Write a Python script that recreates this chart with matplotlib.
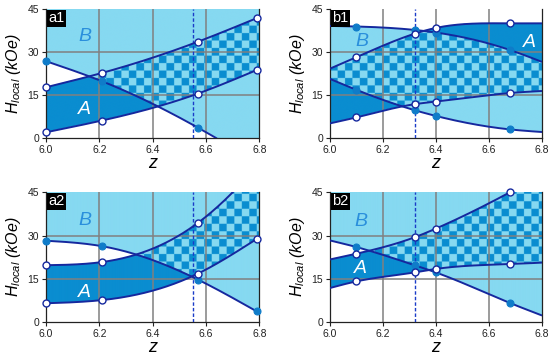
import numpy as np
import matplotlib
matplotlib.use("Agg")
import matplotlib.pyplot as plt

# ---------------- data ----------------
Z_MARK_A = [6.0, 6.21, 6.57, 6.79]
Z_MARK_B = [6.1, 6.32, 6.4, 6.68]

# panel a1
A1_LOWER_Z = [6.0, 6.21, 6.57, 6.79]
A1_LOWER = [2.1, 6.2, 15.6, 23.8]
A1_UPPER_Z = [6.0, 6.21, 6.57, 6.79]
A1_UPPER = [17.8, 22.8, 33.7, 41.9]
A1_FIELD_Z = [6.0, 6.21, 6.57, 6.64]
A1_FIELD = [26.9, 19.9, 3.7, 0.0]

# panel a2
A2_LOWER_Z = [6.0, 6.21, 6.57, 6.79]
A2_LOWER = [6.5, 7.6, 16.8, 28.8]
A2_UPPER_Z = [6.0, 6.21, 6.57, 6.70, 6.8]
A2_UPPER = [19.7, 20.8, 34.4, 45.0, 55.0]
A2_FIELD_Z = [6.0, 6.21, 6.57, 6.79]
A2_FIELD = [28.2, 26.3, 14.7, 3.7]

# panel b1
B_Z = [6.0, 6.1, 6.32, 6.4, 6.68, 6.8]
B1_TOP = [39.2, 39.0, 37.8, 36.9, 30.8, 26.7]
B1_BOT = [20.7, 16.9, 9.8, 7.8, 3.1, 2.2]
B1_UPPER = [24.3, 28.3, 36.5, 38.5, 40.1, 40.1]
B1_LOWER = [5.2, 7.3, 11.9, 12.8, 15.8, 16.5]

# panel b2
B2_FIELD = [28.3, 26.0, 19.7, 17.2, 6.6, 2.3]
B2_UPPER = [21.7, 23.7, 29.4, 32.4, 45.0, 51.0]
B2_LOWER = [11.8, 14.1, 17.2, 18.4, 20.1, 20.6]

DASH_A = 6.55
DASH_B = 6.32

X_TICKS = [6.0, 6.2, 6.4, 6.6, 6.8]
X_TICK_LABELS = ["6.0", "6.2", "6.4", "6.6", "6.8"]
Y_TICKS = [0, 15, 30, 45]
PANEL_LABELS = ["a1", "b1", "a2", "b2"]

# ---------------- style ----------------
LIGHT = np.array([0x86, 0xd9, 0xf1]) / 255
DARK = np.array([0x0a, 0x8d, 0xd0]) / 255
LINE = "#15289e"
FILLED = "#0f7cc9"
B_TXT = "#2a8fdc"
GRIDC = "#808080"

plt.rcParams["mathtext.fontset"] = "custom"
plt.rcParams["mathtext.it"] = "Liberation Sans:italic"
plt.rcParams["mathtext.rm"] = "Liberation Sans"
plt.rcParams["font.family"] = ["Liberation Sans", "DejaVu Sans"]


def spline(x, y, xn):
    x = np.asarray(x, float)
    y = np.asarray(y, float)
    xn = np.asarray(xn, float)
    n = len(x)
    h = np.diff(x)
    A = np.zeros((n, n))
    r = np.zeros(n)
    A[0, 0] = 1
    A[-1, -1] = 1
    for i in range(1, n - 1):
        A[i, i - 1] = h[i - 1]
        A[i, i] = 2 * (h[i - 1] + h[i])
        A[i, i + 1] = h[i]
        r[i] = 6 * ((y[i + 1] - y[i]) / h[i] - (y[i] - y[i - 1]) / h[i - 1])
    M = np.linalg.solve(A, r)
    idx = np.clip(np.searchsorted(x, xn) - 1, 0, n - 2)
    hi = h[idx]
    t1 = x[idx + 1] - xn
    t0 = xn - x[idx]
    out = (M[idx] * t1 ** 3 / (6 * hi) + M[idx + 1] * t0 ** 3 / (6 * hi)
           + (y[idx] / hi - M[idx] * hi / 6) * t1
           + (y[idx + 1] / hi - M[idx + 1] * hi / 6) * t0)
    s0 = (y[1] - y[0]) / h[0] - h[0] * (2 * M[0] + M[1]) / 6
    s1 = (y[-1] - y[-2]) / h[-1] + h[-1] * (M[-2] + 2 * M[-1]) / 6
    out = np.where(xn < x[0], y[0] + s0 * (xn - x[0]), out)
    out = np.where(xn > x[-1], y[-1] + s1 * (xn - x[-1]), out)
    return out


W, H = 860, 520
zz = np.linspace(6.0, 6.8, W)
yy = np.linspace(0, 45, H)
ZG, YG = np.meshgrid(zz, yy)
DX = 0.8 * 7.5 / 213
DY = 45 * 7.5 / 129
CHECK = ((np.floor((ZG - 6.0) / DX) + np.floor(YG / DY)) % 2).astype(bool)


def region_image(lower, upper, b_low, b_high):
    A = (YG > lower[None, :]) & (YG < upper[None, :])
    B = (YG > b_low[None, :]) & (YG < b_high[None, :])
    img = np.ones((H, W, 3))
    img[A & ~B] = DARK
    img[B & ~A] = LIGHT
    both = A & B
    img[both & CHECK] = DARK
    img[both & ~CHECK] = LIGHT
    return img


def draw_curve(ax, zs, vs, marks, filled):
    zf = np.linspace(zs[0], zs[-1], 300)
    ax.plot(zf, spline(zs, vs, zf), color=LINE, lw=1.4, zorder=4,
            solid_capstyle="round")
    mz = [z for z in zs if any(abs(z - m) < 1e-9 for m in marks)]
    mv = [v for z, v in zip(zs, vs) if any(abs(z - m) < 1e-9 for m in marks)]
    if filled:
        ax.plot(mz, mv, "o", ms=5, mfc=FILLED, mec=FILLED, mew=0.8, zorder=5,
                clip_on=False)
    else:
        ax.plot(mz, mv, "o", ms=5, mfc="white", mec=LINE, mew=1.0, zorder=6,
                clip_on=False)


fig = plt.figure(figsize=(5.5, 3.56), dpi=100)
positions = {
    "a1": [46 / 550, 1 - 138.3 / 356, 213.3 / 550, 129 / 356],
    "b1": [330 / 550, 1 - 138.3 / 356, 211.7 / 550, 129 / 356],
    "a2": [46 / 550, 1 - 322 / 356, 213.3 / 550, 129.7 / 356],
    "b2": [330 / 550, 1 - 322 / 356, 211.7 / 550, 129.7 / 356],
}

big = np.full(W, 200.0)

for lab in PANEL_LABELS:
    ax = fig.add_axes(positions[lab])
    if lab == "a1":
        lo = spline(A1_LOWER_Z, A1_LOWER, zz)
        up = spline(A1_UPPER_Z, A1_UPPER, zz)
        f = spline(A1_FIELD_Z, A1_FIELD, zz)
        f = np.where(zz > A1_FIELD_Z[-1], -5, f)
        img = region_image(lo, up, f, big)
        curves = [(A1_LOWER_Z, A1_LOWER, False), (A1_UPPER_Z, A1_UPPER, False),
                  (A1_FIELD_Z, A1_FIELD, True)]
        marks, dash = Z_MARK_A, DASH_A
        bpos, apos = (6.146, 35.5), (6.146, 10.1)
    elif lab == "a2":
        lo = spline(A2_LOWER_Z, A2_LOWER, zz)
        up = spline(A2_UPPER_Z, A2_UPPER, zz)
        f = spline(A2_FIELD_Z, A2_FIELD, zz)
        img = region_image(lo, up, f, big)
        curves = [(A2_LOWER_Z, A2_LOWER, False), (A2_UPPER_Z, A2_UPPER, False),
                  (A2_FIELD_Z, A2_FIELD, True)]
        marks, dash = Z_MARK_A, DASH_A
        bpos, apos = (6.146, 35.2), (6.146, 10.4)
    elif lab == "b1":
        lo = spline(B_Z, B1_LOWER, zz)
        up = spline(B_Z, B1_UPPER, zz)
        bl = spline(B_Z, B1_BOT, zz)
        bh = spline(B_Z, B1_TOP, zz)
        img = region_image(lo, up, bl, bh)
        curves = [(B_Z, B1_LOWER, False), (B_Z, B1_UPPER, False),
                  (B_Z, B1_BOT, True), (B_Z, B1_TOP, True)]
        marks, dash = Z_MARK_B, DASH_B
        bpos, apos = (6.122, 33.7), (6.752, 33.4)
    else:
        lo = spline(B_Z, B2_LOWER, zz)
        up = spline(B_Z, B2_UPPER, zz)
        f = spline(B_Z, B2_FIELD, zz)
        img = region_image(lo, up, f, big)
        curves = [(B_Z, B2_LOWER, False), (B_Z, B2_UPPER, False),
                  (B_Z, B2_FIELD, True)]
        marks, dash = Z_MARK_B, DASH_B
        bpos, apos = (6.117, 34.9), (6.117, 18.5)

    ax.imshow(img, extent=[6.0, 6.8, 0, 45], origin="lower", aspect="auto",
              zorder=0)
    ax.set_xlim(6.0, 6.8)
    ax.set_ylim(0, 45)
    for g in X_TICKS[1:-1]:
        ax.axvline(g, color=GRIDC, lw=1.1, zorder=1)
    for g in Y_TICKS[1:-1]:
        ax.axhline(g, color=GRIDC, lw=1.1, zorder=1)
    ax.axvline(dash, color="#1a3cc8", lw=1.0, ls=(0, (2.5, 1.5)), zorder=3)

    for zs, vs, filled in curves:
        if filled:
            draw_curve(ax, zs, vs, marks, True)
    for zs, vs, filled in curves:
        if not filled:
            draw_curve(ax, zs, vs, marks, False)

    ax.text(*bpos, "B", color=B_TXT, fontsize=14, style="italic",
            ha="center", va="center", zorder=7)
    ax.text(*apos, "A", color="white", fontsize=14, style="italic",
            ha="center", va="center", zorder=7)
    ax.text(0.012, 0.985, lab, transform=ax.transAxes, color="white",
            fontsize=10.5, ha="left", va="top", zorder=8,
            bbox=dict(facecolor="black", edgecolor="none", pad=1.2))

    ax.set_xticks(X_TICKS)
    ax.set_xticklabels(X_TICK_LABELS)
    ax.set_yticks(Y_TICKS)
    ax.tick_params(direction="out", length=3, width=0.8, labelsize=7.5,
                   pad=2, colors="#222222")
    for s in ["left", "bottom", "right"]:
        ax.spines[s].set_color("#222222")
        ax.spines[s].set_linewidth(0.9)
    ax.spines["top"].set_visible(False)
    ax.set_xlabel("z", fontsize=13, style="italic", labelpad=0)
    ax.set_ylabel(r"$H_{local}$ (kOe)", fontsize=11.5, style="italic",
                  labelpad=3)

fig.savefig("out.png", dpi=100)
